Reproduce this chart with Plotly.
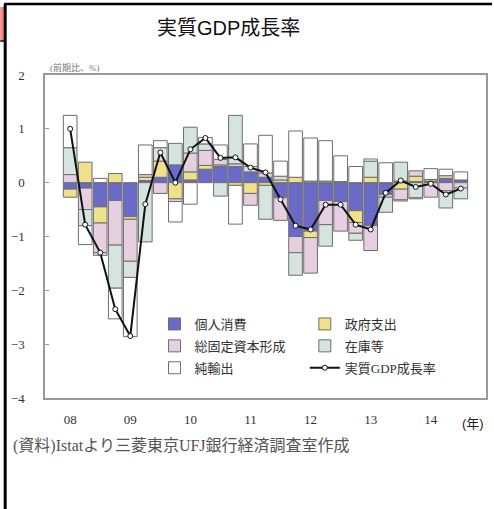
import plotly.graph_objects as go

# ---- data ----
quarters = [f"{y}Q{q}" for y in range(2008, 2015) for q in range(1, 5)][:27]
consumption = [-0.12, -0.10, -0.45, -0.33, -0.63, 0.04, 0.10, 0.33, 0.05, 0.25, 0.30, 0.30, 0.20, 0.10,
               -0.28, -1.00, -0.90, -0.33, -0.35, -0.52, -0.80, -0.22, 0.03, 0.02, 0.03, 0.08, 0.05]
government = [-0.15, 0.38, -0.30, 0.17, -0.05, 0.06, 0.30, -0.30, 0.15, 0.07, 0.03, -0.05, -0.20, -0.05,
              0.05, 0.10, -0.12, 0.03, 0.02, -0.22, 0.10, 0.00, -0.12, 0.10, 0.03, 0.05, 0.00]
gfcf = [0.15, -0.40, -0.55, -0.83, -0.78, 0.05, -0.20, -0.05, 0.35, 0.28, 0.10, 0.05, -0.22, 0.08,
        -0.42, -0.30, -0.66, -0.45, -0.55, -0.20, -0.46, -0.05, -0.20, 0.10, -0.27, -0.15, -0.10]
inventory = [0.50, -0.30, -0.05, -0.80, -0.30, -1.10, 0.25, 0.40, 0.48, 0.12, -0.25, 0.90, 0.10, -0.63,
             0.07, -0.42, 0.03, -0.40, 0.00, -0.13, 0.30, -0.28, 0.35, -0.28, 0.00, -0.32, -0.20]
net_exports = [0.60, -0.35, 0.08, -0.57, -1.10, 0.55, 0.13, -0.38, -0.40, 0.12, 0.27, -0.72, 0.42, 0.70,
               0.28, 0.86, 0.80, 0.75, 0.48, 0.30, 0.04, 0.37, -0.02, -0.02, 0.20, 0.12, 0.15]
gdp = [1.00, -0.78, -1.30, -2.35, -2.85, -0.40, 0.56, 0.00, 0.62, 0.83, 0.46, 0.47, 0.28, 0.19,
       -0.31, -0.80, -0.87, -0.41, -0.41, -0.78, -0.87, -0.19, 0.04, -0.08, -0.02, -0.22, -0.11]
tick_quarters = [quarters[i] for i in range(0, 27, 4)]
tick_labels = ["08", "09", "10", "11", "12", "13", "14"]

W, H = 494, 509
ML, MR, MT, MB = 45, 6, 75, 111
PW, PH = W - ML - MR, H - MT - MB


def px(x):
    return (x - ML) / PW


def py(y):
    return (H - MB - y) / PH


SERIF = "Liberation Serif, Noto Sans CJK JP"
SANS = "Liberation Sans, Noto Sans CJK JP"
fig = go.Figure()

series = [
    ("個人消費", consumption, "#6a6ac9", "legend"),
    ("政府支出", government, "#f0e08a", "legend2"),
    ("総固定資本形成", gfcf, "#e6cfe0", "legend"),
    ("在庫等", inventory, "#d6e4e0", "legend2"),
    ("純輸出", net_exports, "#ffffff", "legend"),
]
for name, vals, col, lg in series:
    fig.add_trace(go.Bar(x=quarters, y=vals, name=name, legend=lg, legendgroup=name,
                         marker=dict(color=col, line=dict(color="#6e6e6e", width=1))))

fig.add_trace(go.Scatter(x=quarters, y=gdp, name="実質GDP成長率", legend="legend2",
                         legendgroup="gdp", mode="lines+markers",
                         line=dict(color="#111111", width=2),
                         marker=dict(symbol="circle", size=5, color="white",
                                     line=dict(color="#111111", width=1))))

legend_common = dict(bgcolor="rgba(0,0,0,0)", font=dict(family=SERIF, size=13, color="#333333"),
                     tracegroupgap=2, xanchor="left", yanchor="top", itemwidth=30)

fig.update_layout(
    width=W, height=H,
    margin=dict(l=ML, r=MR, t=MT, b=MB),
    paper_bgcolor="white", plot_bgcolor="white",
    barmode="relative", bargap=0.09,
    title=dict(text="実質GDP成長率", x=px(250), xanchor="center", y=1 - 28 / H, yanchor="middle",
               font=dict(family=SANS, size=20, color="#111111")),
    legend=dict(x=px(155), y=py(309), **legend_common),
    legend2=dict(x=px(306), y=py(309), **legend_common),
    xaxis=dict(type="category", tickmode="array", tickvals=tick_quarters, ticktext=tick_labels,
               showline=True, mirror=True, linecolor="#9a9a9a", linewidth=1.5, ticks="",
               showgrid=False, tickfont=dict(family="Liberation Serif", size=13, color="#333333"),
               ticklabelstandoff=9),
    yaxis=dict(range=[-4, 2], dtick=1, showline=True, mirror=True, linecolor="#9a9a9a", linewidth=1.5,
               ticks="inside", ticklen=4, tickcolor="#9a9a9a", showgrid=False, zeroline=False,
               tickfont=dict(family="Liberation Serif", size=13, color="#333333"),
               ticklabelstandoff=16),
    showlegend=True,
)

annotations = [
    dict(text="(前期比、%)", x=px(48), y=py(68), xanchor="left", yanchor="middle",
         font=dict(family=SERIF, size=9, color="#777777")),
    dict(text="(年)", x=px(462), y=py(423), xanchor="left", yanchor="middle",
         font=dict(family=SANS, size=13, color="#222222")),
    dict(text="(資料)Istatより三菱東京UFJ銀行経済調査室作成", x=px(11), y=py(446), xanchor="left",
         yanchor="middle", font=dict(family=SERIF, size=16, color="#555555")),
]
for a in annotations:
    fig.add_annotation(xref="paper", yref="paper", showarrow=False, **a)

# page frame decoration seen in the screenshot
shapes = [
    dict(type="rect", x0=px(0), x1=px(4), y0=py(7), y1=py(40), fillcolor="#f08a80", line_width=0),
    dict(type="line", x0=px(0), x1=px(5), y0=py(41), y1=py(41), line=dict(color="black", width=1.5)),
    dict(type="line", x0=px(4), x1=px(494), y0=py(4), y1=py(4), line=dict(color="black", width=2.5)),
    dict(type="line", x0=px(5), x1=px(5), y0=py(4), y1=py(509), line=dict(color="black", width=3)),
]
for s in shapes:
    fig.add_shape(xref="paper", yref="paper", layer="above", **s)

fig.write_html("out.html", config={"displayModeBar": False},
               post_script="document.body.style.margin='0';")
